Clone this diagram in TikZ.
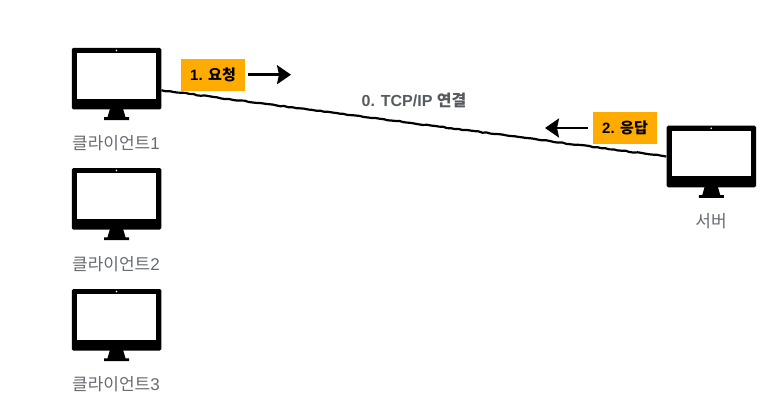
\documentclass[tikz,border=0pt]{standalone}
\usepackage{fontspec}
\setmainfont{Liberation Sans}
\newfontfamily\krfont{Noto Sans CJK KR}
\usetikzlibrary{arrows.meta,decorations.pathmorphing}
\definecolor{labelgray}{HTML}{666B70}
\definecolor{tagorange}{HTML}{FFAB00}
\tikzset{
    monitor/.pic={
        \node[rectangle, fill=black, rounded corners=1.5, minimum width=89.5, minimum height=61.5, inner sep=0] (-body) at (0,0) {};
        \node[rectangle, fill=white, minimum width=79.5, minimum height=45.4, inner sep=0] (-screen) at (0,-2.75) {};
        \fill[white] (0,-28.2) circle (0.9);
        \fill (-6.5,30) -- (6.5,30) -- (9,38.5) -- (12.5,38.5) -- (12.5,41.3) -- (-12.5,41.3) -- (-12.5,38.5) -- (-9,38.5) -- cycle;
    }
}
\begin{document}
\begin{tikzpicture}[
    x=1pt, y=-1pt,
    caption/.style={text=labelgray, font=\fontsize{17}{19}\selectfont},
    tag/.style={rectangle, fill=tagorange, minimum width=64, minimum height=32, inner sep=0, font=\fontsize{15}{18}\selectfont\bfseries},
    rough/.style={decorate, decoration={random steps, segment length=4pt, amplitude=0.5pt}},
    link/.style={line width=2.2pt, rough},
    flow/.style={line width=2.4pt, -{Stealth[length=14pt, width=19pt, inset=2pt]}}
]
\useasboundingbox (0,0) rectangle (784,417);

\pic (client1) at (116.5,78.75) {monitor};
\pic (client2) at (116.5,198.75) {monitor};
\pic (client3) at (116.5,319.75) {monitor};
\pic (server) at (711.25,156.5) {monitor};

\node[caption] (label1) at (116,143.3) {\krfont 클라이언트\rmfamily 1};
\node[caption] (label2) at (116,264.3) {\krfont 클라이언트\rmfamily 2};
\node[caption] (label3) at (116,384.3) {\krfont 클라이언트\rmfamily 3};
\node[caption] (label4) at (711,221.3) {\krfont 서버};

\node[tag] (request) at (213,74.7) {1. {\krfont\bfseries 요청}};
\node[tag] (response) at (625,128) {2. {\krfont\bfseries 응답}};
\node[text=labelgray!85!black, font=\fontsize{16}{18}\selectfont\bfseries] (conn) at (414,100.5) {0. TCP/IP {\krfont\bfseries 연결}};

\coordinate (requestend) at (291,74.7);
\coordinate (responseend) at (545,128);
\coordinate (linkstart) at ([yshift=-11.5pt]client1-body.east);

\draw[link] (linkstart) -- (server-body.west);
\draw[flow, shorten <=3pt] (request.east) -- (requestend);
\draw[flow, shorten <=5pt] (response.west) -- (responseend);
\end{tikzpicture}
\end{document}
